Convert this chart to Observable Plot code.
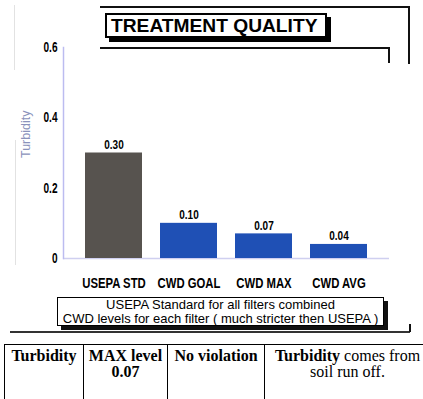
<!DOCTYPE html>
<html>
<head>
<meta charset="utf-8">
<script src="https://cdn.jsdelivr.net/npm/d3@7"></script>
<script src="https://cdn.jsdelivr.net/npm/@observablehq/plot@0.6"></script>
<style>
  html, body { margin: 0; padding: 0; background: #fff; }
  #page { position: relative; width: 423px; height: 399px; overflow: hidden; background: #fff; }
  #chart { position: absolute; left: 0; top: 0; }
  .ln { position: absolute; background: #111; }
  .faint { position: absolute; background: #e2e2e2; }
  #title { position: absolute; left: 105px; top: 13px; width: 214px; height: 21px; border: 2px solid #000;
    box-shadow: 4px 4px 0 #000; background: #fff; font: bold 19.2px "Liberation Sans", Arial, sans-serif;
    line-height: 22px; text-align: left; padding-left: 4px; box-sizing: content-box; color: #000; white-space: nowrap; }
  #caption { position: absolute; left: 57px; top: 297px; width: 325px; height: 27px; border: 1.5px solid #000;
    box-shadow: 4px 4px 0 #111; background: #fff; font: 13px "Liberation Sans", Arial, sans-serif; line-height: 13.5px;
    text-align: center; color: #000; white-space: nowrap; }
  .cell { position: absolute; top: 344px; height: 60px; border-left: 1.5px solid #000; border-top: 1.5px solid #000;
    font: 16px "Liberation Serif", "Times New Roman", serif; line-height: 16px; text-align: center; color: #000;
    padding-top: 3px; box-sizing: border-box; white-space: nowrap; }
  .b { font-weight: bold; }
</style>
</head>
<body>
<div id="page">
  <div id="chart"></div>
  <div class="faint" style="left:14px;top:5px;width:1px;height:65px;"></div>
  <div class="faint" style="left:15px;top:140px;width:1px;height:125px;"></div>
  <div class="ln" style="left:100px;top:6px;width:310px;height:1.5px;"></div>
  <div class="ln" style="left:408px;top:6px;width:1.5px;height:58px;"></div>
  <div class="ln" style="left:100px;top:47px;width:290px;height:1.5px;"></div>
  <div class="ln" style="left:388px;top:47px;width:1.5px;height:16px;"></div>
  <div id="title"></div>
  <div id="caption"></div>
  <div class="ln" style="left:10px;top:331px;width:400px;height:1.5px;background:#333;"></div>
  <div class="ln" style="left:409px;top:324px;width:1.5px;height:8px;"></div>
  <div id="table"></div>
</div>
<script>
// ---- data ----
const categories = ["USEPA STD", "CWD GOAL", "CWD MAX", "CWD AVG"];
const values = [0.30, 0.10, 0.07, 0.04];
const valueLabels = ["0.30", "0.10", "0.07", "0.04"];
const barColors = ["#57534f", "#1f50b5", "#1f50b5", "#1f50b5"];
const yTicks = [0, 0.2, 0.4, 0.6];
const yLabel = "Turbidity";
const titleText = "TREATMENT QUALITY";
const captionLines = ["USEPA Standard for all filters combined", "CWD levels for each filter ( much stricter then USEPA )"];
const tableCells = [
  ["<span class='b'>Turbidity</span>"],
  ["<span class='b'>MAX level</span>", "<span class='b'>0.07</span>"],
  ["<span class='b'>No violation</span>"],
  ["<span class='b'>Turbidity</span> comes from", "soil run off."]
];
const tableEdges = [4, 83, 167, 264, 430];

// ---- chart ----
const rows = categories.map((c, i) => ({cat: c, val: values[i], label: valueLabels[i]}));
const sans = "'Liberation Sans', Arial, sans-serif";

const chart = Plot.plot({
  width: 423,
  height: 300,
  marginTop: 47,
  marginBottom: 42,
  marginLeft: 63,
  marginRight: 34,
  style: {fontFamily: sans, fontSize: "14px", fontWeight: "bold", color: "#000", background: "transparent"},
  x: {domain: categories, paddingInner: 0.235, paddingOuter: 0.27, label: null, tickSize: 0, tickPadding: 19},
  y: {domain: [0, 0.6], ticks: yTicks, tickFormat: d => d === 0 ? "0" : d.toFixed(1), label: null, tickSize: 0, tickPadding: 6},
  color: {domain: categories, range: barColors},
  marks: [
    Plot.ruleY([0], {stroke: "#cfcff0", strokeWidth: 1.5}),
    Plot.frame({anchor: "left", stroke: "#bcbcf0", strokeWidth: 1.5}),
    Plot.barY(rows, {x: "cat", y: "val", fill: "cat"}),
    Plot.text(rows, {x: "cat", y: "val", text: "label", dy: -8, fontSize: 12.5, fontWeight: "bold", fill: "#000"}),
    Plot.text([yLabel], {frameAnchor: "left", rotate: -90, dx: -38, dy: 5, fill: "#8a92bb", fontSize: 12.5, fontWeight: "normal", fontFamily: sans})
  ]
});
document.getElementById("chart").appendChild(chart);

// x tick labels a little larger
chart.querySelectorAll("[aria-label='x-axis tick label'] text").forEach(t => t.setAttribute("font-size", "14.5"));

// condense the chart's bold labels (like Helvetica Condensed in the original)
document.fonts.ready.then(() => {
  chart.querySelectorAll("text").forEach(t => {
    if (t.textContent === yLabel) return;
    const len = t.getComputedTextLength();
    const isX = categories.includes(t.textContent);
    const isY = t.closest("[aria-label='y-axis tick label']") !== null;
    if (len > 0) {
      t.setAttribute("textLength", (len * (isX ? 0.78 : isY ? 0.72 : 0.8)).toFixed(1));
      t.setAttribute("lengthAdjust", "spacingAndGlyphs");
    }
  });
});

document.getElementById("title").textContent = titleText;
document.getElementById("caption").innerHTML = captionLines.join("<br>");

const table = document.getElementById("table");
tableCells.forEach((lines, i) => {
  const d = document.createElement("div");
  d.className = "cell";
  d.style.left = tableEdges[i] + "px";
  d.style.width = (tableEdges[i + 1] - tableEdges[i]) + "px";
  d.innerHTML = lines.join("<br>");
  table.appendChild(d);
});
</script>
</body>
</html>
